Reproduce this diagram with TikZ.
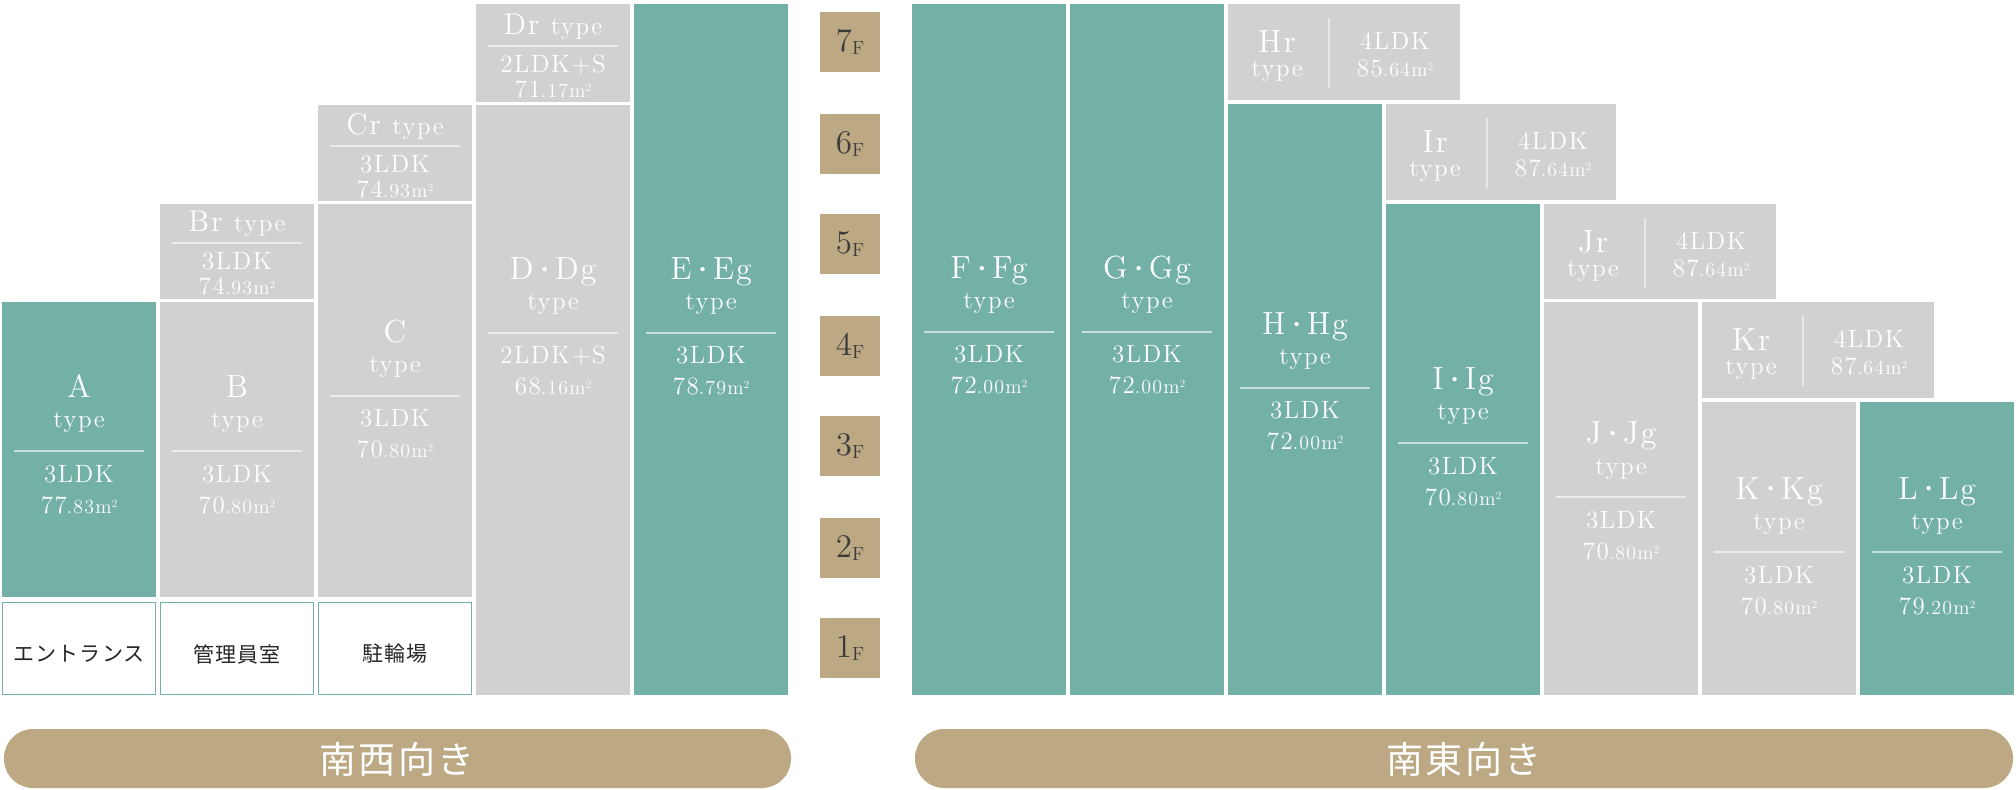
\documentclass[tikz,border=0pt]{standalone}
\usepackage{fontspec}
\usepackage{xcolor}
\usepackage{tikz}
\setmainfont{lmroman12-regular.otf}[LetterSpace=6]
\newfontfamily\jpfont{Noto Sans CJK JP}[LetterSpace=6]

\definecolor{unitteal}{HTML}{73B0A6}
\definecolor{unitgray}{HTML}{D1D1D1}
\definecolor{floortan}{HTML}{BDA884}
\definecolor{floorink}{HTML}{3A3A3A}

\tikzset{
  tealunit/.style={fill=unitteal},
  grayunit/.style={fill=unitgray},
  nametxt/.style={text=white, anchor=base, inner sep=0pt, font=\fontsize{16}{16}\selectfont},
  typetxt/.style={text=white, anchor=base, inner sep=0pt, font=\fontsize{12.5}{12.5}\selectfont},
  spectxt/.style={text=white, anchor=base, inner sep=0pt, font=\fontsize{12.5}{12.5}\selectfont},
  sepline/.style={white, opacity=0.6, line width=0.6pt},
  vsepline/.style={white, opacity=0.5, line width=0.7pt},
  floorlbl/.style={fill=floortan, text=floorink, minimum size=30pt, inner sep=0pt},
  roombox/.style={draw=unitteal, fill=white, line width=0.7pt},
  roomtxt/.style={text=black!85, font=\jpfont\fontsize{10.5}{10.5}\selectfont},
  sidebar/.style={fill=floortan, rounded corners=14.5pt},
  sidetxt/.style={text=white, font=\jpfont\fontsize{18.5}{18.5}\selectfont}
}

\newcommand{\sqm}[2]{#1{\fontsize{10}{10}\selectfont.#2m\raisebox{3pt}{\fontsize{5.5}{5.5}\selectfont 2}}}
\newcommand{\ndot}{\hspace{2.5pt}\raisebox{3pt}{\fontsize{8}{8}\selectfont\textbullet}\hspace{2pt}}
\newcommand{\flflr}[1]{{\fontsize{16.5}{16.5}\selectfont #1}\raisebox{-1.5pt}{\fontsize{9.5}{9.5}\selectfont F}}

\newcommand{\unitinfo}[6]{%
  \node[nametxt] (#1name) at (#2,#3-53) {#4};
  \node[typetxt] (#1type) at (#2,#3-23) {type};
  \draw[sepline] (#2-65,#3) -- (#2+65,#3);
  \node[spectxt] (#1plan) at (#2,#3+31) {#5};
  \node[spectxt] (#1area) at (#2,#3+62) {#6};
}
\newcommand{\roofinfo}[6]{%
  \node[nametxt, font=\fontsize{15}{15}\selectfont] (#1name) at (#2,#3-11) {#4 {\fontsize{12.5}{12.5}\selectfont type}};
  \draw[sepline] (#2-65,#3) -- (#2+65,#3);
  \node[spectxt] (#1plan) at (#2,#3+27) {#5};
  \node[spectxt] (#1area) at (#2,#3+52) {#6};
}
\newcommand{\sideinfo}[5]{%
  \node[nametxt] (#1name) at (#2+49,#3+49) {#4};
  \node[typetxt] (#1type) at (#2+49,#3+73) {type};
  \draw[vsepline] (#2+101,#3+14) -- (#2+101,#3+84);
  \node[spectxt] (#1plan) at (#2+167,#3+46) {4LDK};
  \node[spectxt] (#1area) at (#2+167,#3+73) {#5};
}

\begin{document}
\begin{tikzpicture}[x=0.5pt, y=-0.5pt]
\useasboundingbox (0,0) rectangle (2016,790);

\fill[tealunit] (2,302) rectangle (156,597);
\fill[grayunit] (160,204) rectangle (314,299);
\fill[grayunit] (160,302) rectangle (314,597);
\fill[grayunit] (318,105) rectangle (472,201);
\fill[grayunit] (318,204) rectangle (472,597);
\fill[grayunit] (476,4) rectangle (630,102);
\fill[grayunit] (476,105) rectangle (630,695);
\fill[tealunit] (634,4) rectangle (788,695);

\draw[roombox] (2.7,602.7) rectangle (155.3,694.3);
\draw[roombox] (160.7,602.7) rectangle (313.3,694.3);
\draw[roombox] (318.7,602.7) rectangle (471.3,694.3);
\node[roomtxt] (entrance) at (79,654) {エントランス};
\node[roomtxt] (office) at (237,654) {管理員室};
\node[roomtxt] (bikes) at (395,654) {駐輪場};

\unitinfo{a}{79}{451}{A}{3LDK}{\sqm{77}{83}}
\unitinfo{b}{237}{451}{B}{3LDK}{\sqm{70}{80}}
\unitinfo{c}{395}{396}{C}{3LDK}{\sqm{70}{80}}
\unitinfo{d}{553}{333}{D\ndot Dg}{2LDK+S}{\sqm{68}{16}}
\unitinfo{e}{711}{333}{E\ndot Eg}{3LDK}{\sqm{78}{79}}
\roofinfo{br}{237}{243}{Br}{3LDK}{\sqm{74}{93}}
\roofinfo{cr}{395}{146}{Cr}{3LDK}{\sqm{74}{93}}
\roofinfo{dr}{553}{46}{Dr}{2LDK+S}{\sqm{71}{17}}

\node[floorlbl] (f7) at (850,42) {\flflr{7}};
\node[floorlbl] (f6) at (850,144) {\flflr{6}};
\node[floorlbl] (f5) at (850,244) {\flflr{5}};
\node[floorlbl] (f4) at (850,346) {\flflr{4}};
\node[floorlbl] (f3) at (850,446) {\flflr{3}};
\node[floorlbl] (f2) at (850,548) {\flflr{2}};
\node[floorlbl] (f1) at (850,648) {\flflr{1}};

\fill[tealunit] (912,4) rectangle (1066,695);
\fill[tealunit] (1070,4) rectangle (1224,695);
\fill[grayunit] (1228,4) rectangle (1460,100);
\fill[tealunit] (1228,104) rectangle (1382,695);
\fill[grayunit] (1386,104) rectangle (1616,200);
\fill[tealunit] (1386,204) rectangle (1540,695);
\fill[grayunit] (1544,204) rectangle (1776,299);
\fill[grayunit] (1544,302) rectangle (1698,695);
\fill[grayunit] (1702,302) rectangle (1934,398);
\fill[grayunit] (1702,402) rectangle (1856,695);
\fill[tealunit] (1860,402) rectangle (2014,695);

\unitinfo{f}{989}{332}{F\ndot Fg}{3LDK}{\sqm{72}{00}}
\unitinfo{g}{1147}{332}{G\ndot Gg}{3LDK}{\sqm{72}{00}}
\unitinfo{h}{1305}{388}{H\ndot Hg}{3LDK}{\sqm{72}{00}}
\unitinfo{i}{1463}{443}{I\ndot Ig}{3LDK}{\sqm{70}{80}}
\unitinfo{j}{1621}{497}{J\ndot Jg}{3LDK}{\sqm{70}{80}}
\unitinfo{k}{1779}{552}{K\ndot Kg}{3LDK}{\sqm{70}{80}}
\unitinfo{l}{1937}{552}{L\ndot Lg}{3LDK}{\sqm{79}{20}}
\sideinfo{hr}{1228}{4}{Hr}{\sqm{85}{64}}
\sideinfo{ir}{1386}{104}{Ir}{\sqm{87}{64}}
\sideinfo{jr}{1544}{204}{Jr}{\sqm{87}{64}}
\sideinfo{kr}{1702}{302}{Kr}{\sqm{87}{64}}

\fill[sidebar] (4,729) rectangle (791,788);
\fill[sidebar] (915,729) rectangle (2013,788);
\node[sidetxt] (southwest) at (397,759) {南西向き};
\node[sidetxt] (southeast) at (1464,759) {南東向き};
\end{tikzpicture}
\end{document}
